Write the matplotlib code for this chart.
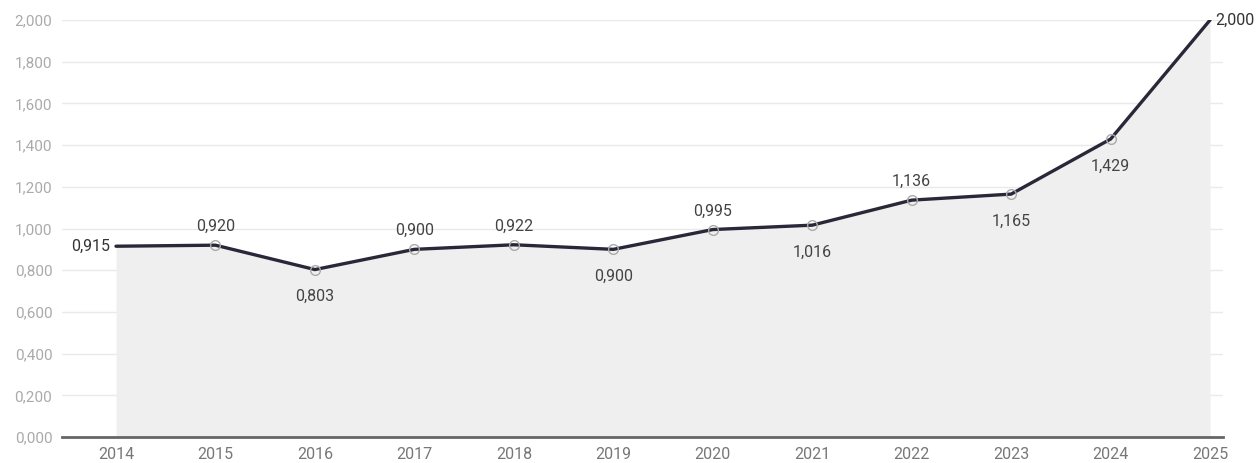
import matplotlib
matplotlib.use("Agg")
import matplotlib.pyplot as plt
from matplotlib.ticker import FuncFormatter

years = [2014, 2015, 2016, 2017, 2018, 2019, 2020, 2021, 2022, 2023, 2024, 2025]
values = [0.915, 0.920, 0.803, 0.900, 0.922, 0.900, 0.995, 1.016, 1.136, 1.165, 1.429, 2.000]
label_pos = ["left", "above", "below", "above", "above", "below", "above", "below", "above", "below", "below", "right"]
yticks = [0.0, 0.2, 0.4, 0.6, 0.8, 1.0, 1.2, 1.4, 1.6, 1.8, 2.0]

def fmt(v):
    return f"{v:.3f}".replace(".", ",")

plt.rcParams['font.family'] = ['Roboto', 'DejaVu Sans']

fig = plt.figure(figsize=(12.59, 4.63), dpi=100)
ax = fig.add_axes([62/1259, (463-437)/463, (1223-62)/1259, (437-20)/463])

ax.fill_between(years, values, 0, color="#efefef", zorder=1, linewidth=0)
ax.plot(years, values, color="#2a2838", linewidth=2.4, zorder=3, solid_capstyle="round")
ax.plot(years[1:-1], values[1:-1], linestyle="none", marker="o", markersize=7,
        markerfacecolor="none", markeredgecolor="#aaaaaa", markeredgewidth=1.0, zorder=4)

LFS = 11.5
for x, v, p in zip(years, values, label_pos):
    if p == "above":
        ax.annotate(fmt(v), (x, v), xytext=(0, 8), textcoords="offset points",
                    ha="center", va="bottom", fontsize=LFS, color="#444444")
    elif p == "below":
        ax.annotate(fmt(v), (x, v), xytext=(0, -14), textcoords="offset points",
                    ha="center", va="top", fontsize=LFS, color="#444444")
    elif p == "left":
        ax.annotate(fmt(v), (x, v), xytext=(-4, 0), textcoords="offset points",
                    ha="right", va="center", fontsize=LFS, color="#333333")
    else:
        ax.annotate(fmt(v), (x, v), xytext=(4, 0), textcoords="offset points",
                    ha="left", va="center", fontsize=LFS, color="#333333")

ax.set_xlim(2013.457, 2025.13)
ax.set_ylim(0, 2.0)
ax.set_yticks(yticks)
ax.yaxis.set_major_formatter(FuncFormatter(lambda v, _: fmt(v)))
ax.set_xticks(years)
ax.set_xticklabels([str(y) for y in years])
ax.grid(axis="y", color="#eaeaea", linewidth=1.0, zorder=0)
ax.set_axisbelow(True)
for s in ["top", "right", "left"]:
    ax.spines[s].set_visible(False)
ax.spines["bottom"].set_color("#666666")
ax.spines["bottom"].set_linewidth(2.0)
ax.spines["bottom"].set_zorder(5)
ax.tick_params(axis="y", length=0, pad=7, labelsize=11, labelcolor="#aaaaaa")
ax.tick_params(axis="x", length=0, pad=7, labelsize=11.5, labelcolor="#777777")
for s in ax.spines.values():
    s.set_clip_on(False)

fig.savefig("out.png", dpi=100)
